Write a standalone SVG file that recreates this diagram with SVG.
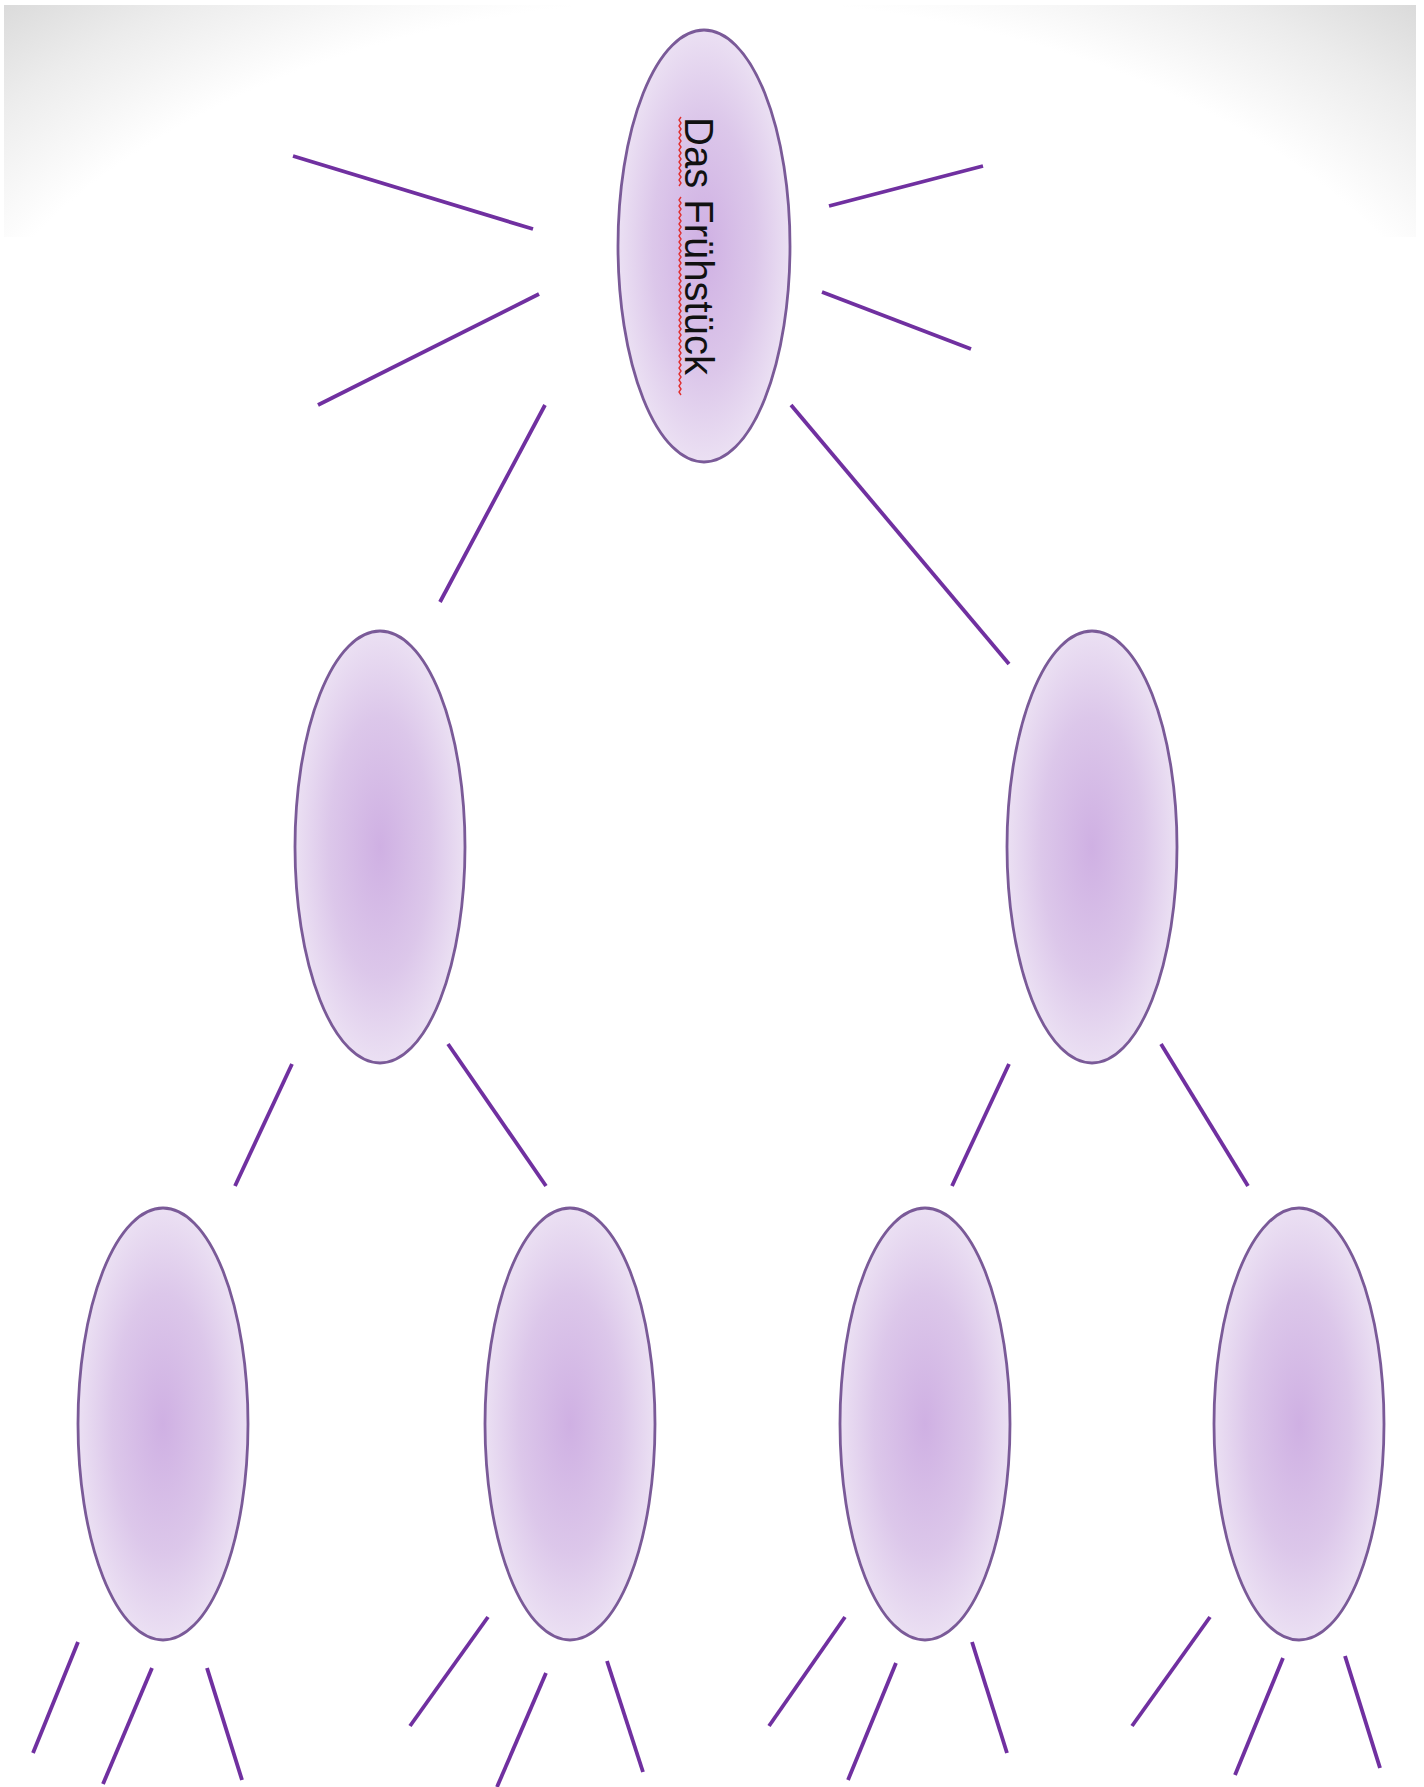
<svg xmlns="http://www.w3.org/2000/svg" width="1424" height="1787" viewBox="0 0 1424 1787">
<defs>
<radialGradient id="bg" gradientUnits="userSpaceOnUse" cx="707" cy="0" r="1070" gradientTransform="translate(0,500) scale(1,0.632)">
<stop offset="0" stop-color="#ffffff"/>
<stop offset="0.74" stop-color="#ffffff"/>
<stop offset="0.88" stop-color="#ececec"/>
<stop offset="1" stop-color="#d8d8d8"/>
</radialGradient>
<radialGradient id="node" cx="0.5" cy="0.5" r="0.5">
<stop offset="0" stop-color="#cfb0e3"/>
<stop offset="0.6" stop-color="#dcc7ea"/>
<stop offset="1" stop-color="#ebe0f3"/>
</radialGradient>
</defs>
<style>
.n{fill:url(#node);stroke:#7a5a98;stroke-width:2.8}
.c line{stroke:#7030a0;stroke-width:3.8;stroke-linecap:butt}
.t{font-family:"Liberation Sans",Arial,sans-serif;font-size:41px;fill:#111}
.sq{fill:none;stroke:#e03030;stroke-width:1.4}
</style>
<rect x="0" y="0" width="1424" height="1787" fill="#ffffff"/>
<rect x="4" y="5" width="1412" height="232" fill="url(#bg)"/>
<g class="c" id="connectors">
<line x1="293" y1="156" x2="533" y2="229"/>
<line x1="318" y1="405" x2="539" y2="294"/>
<line x1="440" y1="602" x2="545" y2="405"/>
<line x1="829" y1="206" x2="983" y2="166"/>
<line x1="822" y1="292" x2="971" y2="349"/>
<line x1="791" y1="405" x2="1009" y2="664"/>
<line x1="292" y1="1064" x2="235" y2="1186"/>
<line x1="448" y1="1044" x2="546" y2="1186"/>
<line x1="1009" y1="1064" x2="952" y2="1186"/>
<line x1="1161" y1="1044" x2="1248" y2="1186"/>
<line x1="78" y1="1642" x2="33" y2="1753"/>
<line x1="152" y1="1668" x2="103" y2="1784"/>
<line x1="207" y1="1668" x2="242" y2="1780"/>
<line x1="488" y1="1617" x2="410" y2="1726"/>
<line x1="546" y1="1673" x2="497" y2="1787"/>
<line x1="607" y1="1661" x2="643" y2="1772"/>
<line x1="845" y1="1617" x2="769" y2="1726"/>
<line x1="896" y1="1663" x2="848" y2="1780"/>
<line x1="972" y1="1642" x2="1007" y2="1753"/>
<line x1="1210" y1="1617" x2="1132" y2="1726"/>
<line x1="1283" y1="1658" x2="1235" y2="1775"/>
<line x1="1345" y1="1656" x2="1380" y2="1768"/>
</g>
<g id="root">
<ellipse class="n" cx="704" cy="246" rx="86" ry="216"/>
<path class="sq" d="M681 117 l-2 3 l2 3 l-2 3 l2 3 l-2 3 l2 3 l-2 3 l2 3 l-2 3 l2 3 l-2 3 l2 3 l-2 3 l2 3 l-2 3 l2 3 l-2 3 l2 3 l-2 3 l2 3 l-2 3 l2 3 l-2 3"/>
<path class="sq" d="M681 197 l-2 3 l2 3 l-2 3 l2 3 l-2 3 l2 3 l-2 3 l2 3 l-2 3 l2 3 l-2 3 l2 3 l-2 3 l2 3 l-2 3 l2 3 l-2 3 l2 3 l-2 3 l2 3 l-2 3 l2 3 l-2 3 l2 3 l-2 3 l2 3 l-2 3 l2 3 l-2 3 l2 3 l-2 3 l2 3 l-2 3 l2 3 l-2 3 l2 3 l-2 3 l2 3 l-2 3 l2 3 l-2 3 l2 3 l-2 3 l2 3 l-2 3 l2 3 l-2 3 l2 3 l-2 3 l2 3 l-2 3 l2 3 l-2 3 l2 3 l-2 3 l2 3 l-2 3 l2 3 l-2 3 l2 3 l-2 3 l2 3 l-2 3 l2 3 l-2 3 l2 3"/>
<text class="t" transform="translate(685,117) rotate(90)" textLength="258" lengthAdjust="spacingAndGlyphs">Das Frühstück</text>
</g>
<g id="mid-left"><ellipse class="n" cx="380" cy="847" rx="85" ry="216"/></g>
<g id="mid-right"><ellipse class="n" cx="1092" cy="847" rx="85" ry="216"/></g>
<g id="leaf-1"><ellipse class="n" cx="163" cy="1424" rx="85" ry="216"/></g>
<g id="leaf-2"><ellipse class="n" cx="570" cy="1424" rx="85" ry="216"/></g>
<g id="leaf-3"><ellipse class="n" cx="925" cy="1424" rx="85" ry="216"/></g>
<g id="leaf-4"><ellipse class="n" cx="1299" cy="1424" rx="85" ry="216"/></g>
</svg>
